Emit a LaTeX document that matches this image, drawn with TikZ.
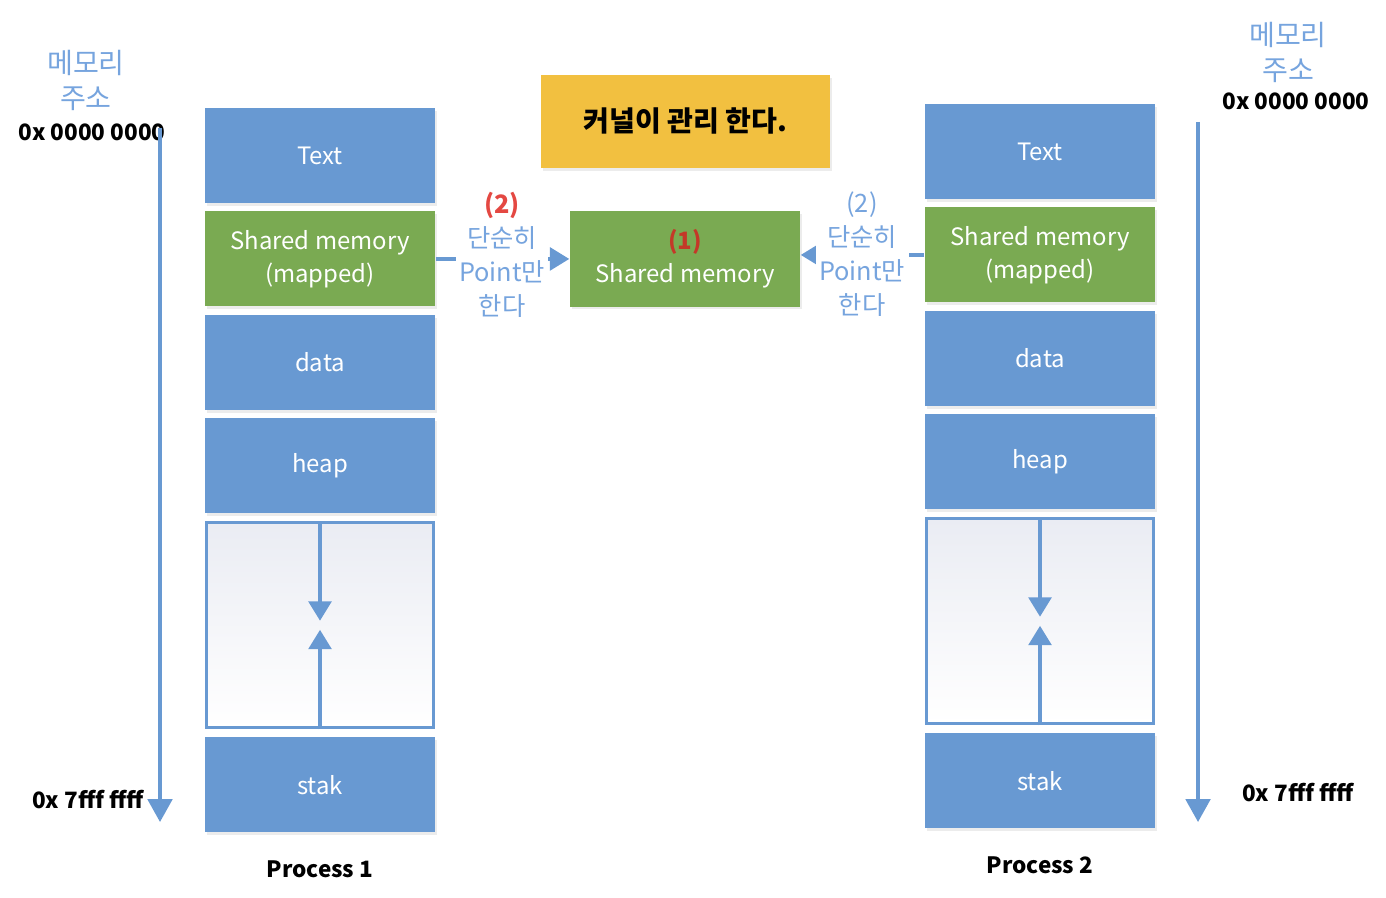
\documentclass[tikz,border=0pt]{standalone}
\usepackage{fontspec}
\setmainfont{Noto Sans CJK KR}
\usetikzlibrary{positioning,shadows,arrows.meta}
\definecolor{segblue}{RGB}{104,153,210}
\definecolor{shmgreen}{RGB}{122,170,82}
\definecolor{kernyellow}{RGB}{242,192,64}
\definecolor{addrblue}{RGB}{118,164,222}
\definecolor{numred}{RGB}{228,72,66}
\definecolor{darkred}{RGB}{196,56,40}
\definecolor{gapgray}{RGB}{234,236,243}

\begin{document}
\begin{tikzpicture}[x=0.01cm,y=0.01cm,node distance=0.07cm,
    every node/.style={font=\fontsize{7.5}{9.7}\selectfont}]
    \tikzstyle{seg}=[fill=segblue,text=white,minimum width=2.3cm,minimum height=0.95cm,inner sep=0pt,align=center,
        font=\fontsize{6.8}{9.4}\selectfont,
        drop shadow={opacity=0.15,shadow xshift=0.6pt,shadow yshift=-0.8pt}]
    \tikzstyle{shmseg}=[seg,fill=shmgreen]
    \tikzstyle{gapseg}=[draw=segblue,line width=0.9pt,top color=gapgray,bottom color=white,
        minimum width=2.27cm,minimum height=2.05cm,inner sep=0pt]
    \tikzstyle{axis}=[draw=segblue,line width=0.9pt,-{Triangle[width=7pt,length=6.5pt]}]
    \tikzstyle{inarr}=[draw=segblue,line width=0.9pt,-{Triangle[width=6.5pt,length=5.5pt]}]
    \tikzstyle{addr}=[text=addrblue,align=center,font=\fontsize{8}{10}\selectfont]
    \tikzstyle{hexlbl}=[font=\fontsize{6.4}{8}\selectfont\bfseries]
    \tikzstyle{linklbl}=[text=addrblue,align=center,fill=white,inner sep=1pt,font=\fontsize{7.2}{9.7}\selectfont]

    \useasboundingbox (0,0) rectangle (1386,898);

    % Process 1
    \node[seg] (txtL) at (320,742.5) {Text};
    \node[shmseg,below=of txtL] (smL) {Shared memory\\(mapped)};
    \node[seg,below=of smL] (dataL) {data};
    \node[seg,below=of dataL] (heapL) {heap};
    \node[gapseg,below=of heapL] (gapL) {};
    \node[seg,below=of gapL] (stakL) {stak};
    \node[hexlbl,below=0.15cm of stakL] (procL) {Process 1};
    \draw[inarr] (gapL.north) -- ([yshift=1.3pt]gapL.center);
    \draw[inarr] (gapL.south) -- ([yshift=-1.3pt]gapL.center);

    % Process 2
    \node[seg] (txtR) at (1040,746.5) {Text};
    \node[shmseg,below=of txtR] (smR) {Shared memory\\(mapped)};
    \node[seg,below=of smR] (dataR) {data};
    \node[seg,below=of dataR] (heapR) {heap};
    \node[gapseg,below=of heapR] (gapR) {};
    \node[seg,below=of gapR] (stakR) {stak};
    \node[hexlbl,below=0.15cm of stakR] (procR) {Process 2};
    \draw[inarr] (gapR.north) -- ([yshift=1.3pt]gapR.center);
    \draw[inarr] (gapR.south) -- ([yshift=-1.3pt]gapR.center);

    % address axes
    \node[addr] (memL) at (86,817.5) {메모리\\주소};
    \node[hexlbl] (zeroL) at (92,766) {0x 0000 0000};
    \node[hexlbl] (maxL) at (88,98) {0x 7fff ffff};
    \coordinate (axLtop) at (160,770);
    \coordinate (axLbot) at (160,76);
    \draw[axis] (axLtop) -- (axLbot);

    \node[addr] (memR) at (1288,845.5) {메모리\\주소};
    \node[hexlbl] (zeroR) at (1296,797) {0x 0000 0000};
    \node[hexlbl] (maxR) at (1298,105) {0x 7fff ffff};
    \coordinate (axRtop) at (1198,776);
    \coordinate (axRbot) at (1198,76);
    \draw[axis] (axRtop) -- (axRbot);

    % kernel side
    \node[seg,fill=kernyellow,text=black,minimum width=2.89cm,minimum height=0.93cm,
        font=\fontsize{8}{9.7}\selectfont\bfseries] (kern) at (685.5,776.5) {커널이 관리 한다.};
    \node[shmseg] (shm) at (685,639) {\textcolor{darkred}{\bfseries (1)}\\Shared memory};

    \draw[inarr] (smL.east) -- (smL.east -| shm.west);
    \node[linklbl] (lnkL) at (502,643) {\textcolor{numred}{\bfseries (2)}\\단순히\\Point만\\한다};
    \draw[inarr] (smR.west) -- (smR.west -| shm.east);
    \node[linklbl] (lnkR) at (862,644) {(2)\\단순히\\Point만\\한다};
\end{tikzpicture}
\end{document}
